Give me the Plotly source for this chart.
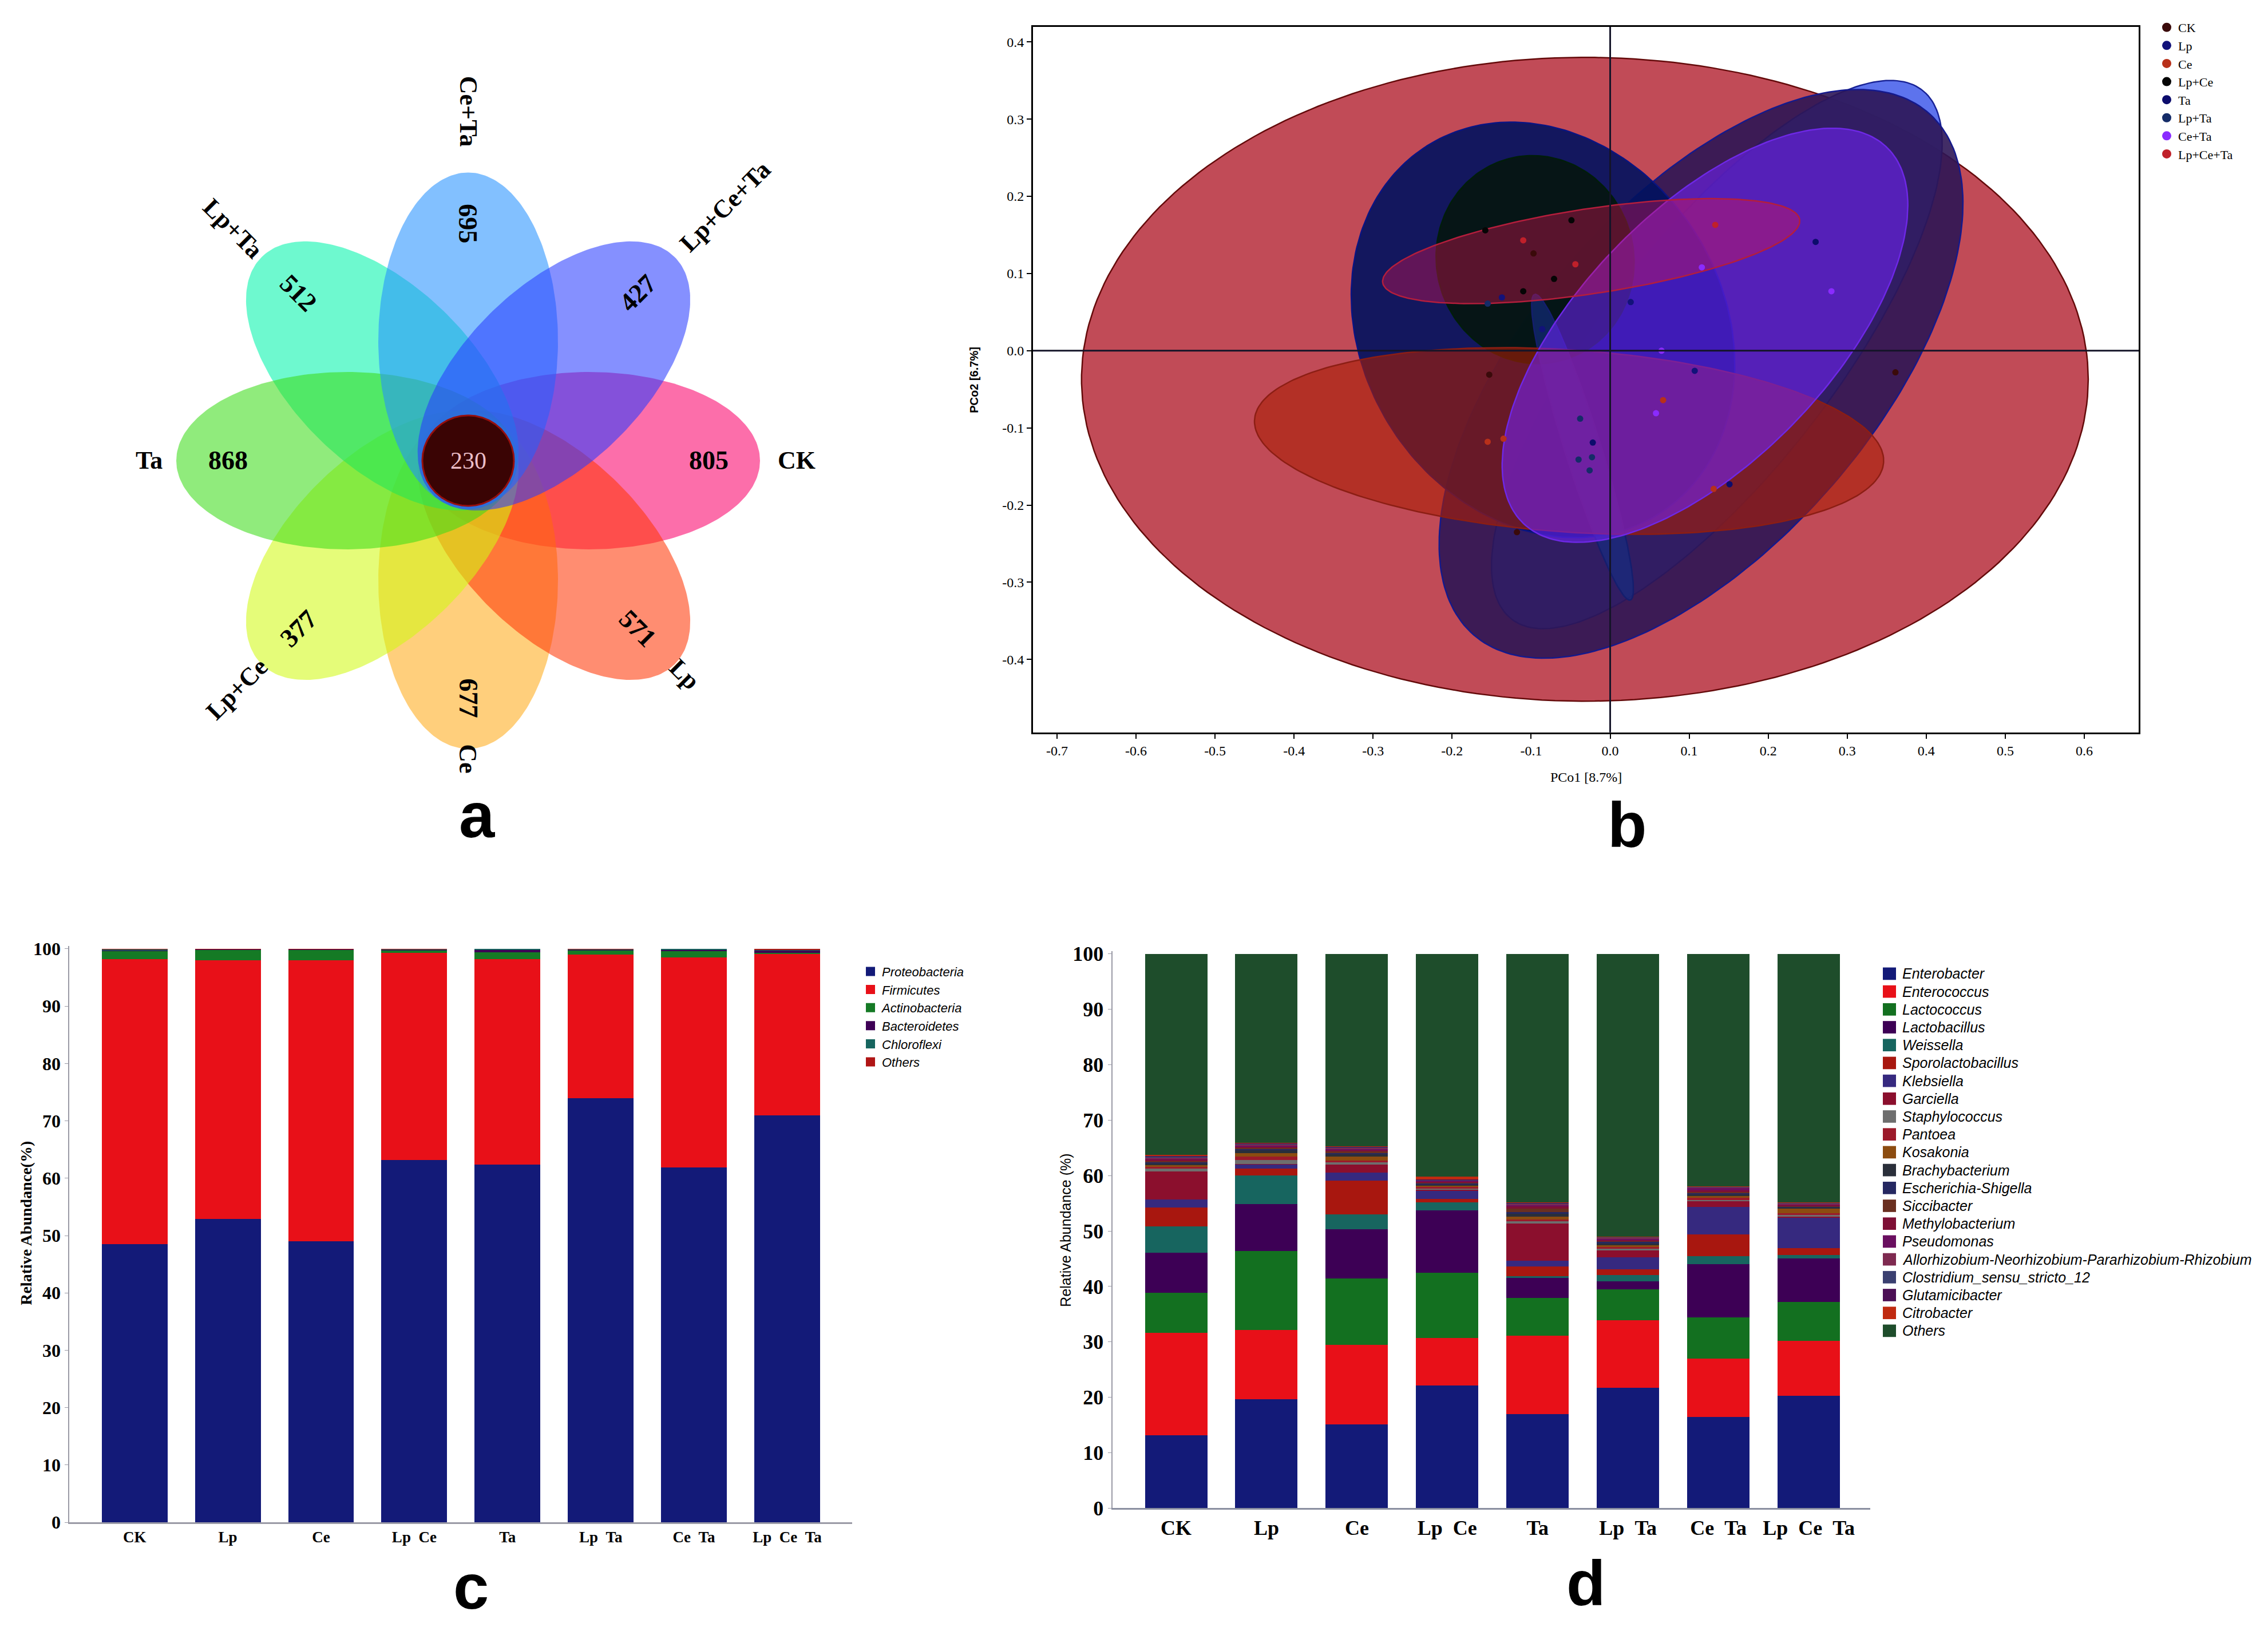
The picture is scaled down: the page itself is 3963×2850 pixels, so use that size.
import numpy as np
import plotly.graph_objects as go

# ====================== DATA ======================
# ---- panel a : flower Venn diagram ----
venn_sets = ["CK", "Lp", "Ce", "Lp+Ce", "Ta", "Lp+Ta", "Ce+Ta", "Lp+Ce+Ta"]
venn_unique = [805, 571, 677, 377, 868, 512, 695, 427]
venn_core = 230
venn_dir_deg = [0, -45, -90, -135, 180, 135, 90, 45]
venn_colors = ["rgb(250,0,105)", "rgb(255,55,5)", "rgb(255,170,25)", "rgb(210,250,20)",
               "rgb(60,220,25)", "rgb(0,245,170)", "rgb(35,145,255)", "rgb(40,60,255)"]
venn_label_r = [574, 535, 527, 572, 558, 581, 618, 636]
venn_draw_order = [0, 2, 1, 3, 5, 4, 6, 7]

# ---- panel b : PCoA ----
pcoa_groups = ["CK", "Lp", "Ce", "Lp+Ce", "Ta", "Lp+Ta", "Ce+Ta", "Lp+Ce+Ta"]
pcoa_colors = ["#3A0A0A", "#12127A", "#B8301A", "#050505", "#0C0C6C", "#152C68", "#8A2BFF", "#C0202A"]
pcoa_x = [[0.361, -0.153, -0.118, -0.097],
          [-0.137, 0.107, 0.026, -0.086],
          [0.067, -0.135, -0.155, 0.131],
          [-0.158, -0.049, -0.071, -0.110],
          [0.260, 0.151, -0.022],
          [-0.155, -0.038, -0.040, -0.023, -0.026],
          [0.116, 0.280, 0.065, 0.058],
          [-0.110, -0.044, 0.133]]
pcoa_y = [[-0.028, -0.031, -0.235, 0.126],
          [0.069, -0.026, 0.063, 0.028],
          [-0.064, -0.114, -0.118, -0.179],
          [0.156, 0.169, 0.093, 0.077],
          [0.141, -0.173, -0.119],
          [0.061, -0.088, -0.141, -0.138, -0.155],
          [0.108, 0.077, 0.000, -0.081],
          [0.143, 0.112, 0.163]]
# confidence ellipses (drawing order bottom -> top)
ell_cx = [-0.032, 0.135, 0.115, -0.085, -0.095, -0.035, -0.052, 0.120, -0.024]
ell_cy = [-0.037, -0.005, -0.030, 0.027, 0.118, -0.125, -0.117, 0.020, 0.129]
ell_a = [0.637, 0.430, 0.444, 0.280, 0.135, 0.207, 0.399, 0.335, 0.267]
ell_b = [0.417, 0.150, 0.220, 0.230, 0.125, 0.023, 0.118, 0.160, 0.055]
ell_ang = [0, 53, 50, 119, 100, 107, -4, 47, 8.8]
ell_fill = ["rgba(178,30,45,0.80)", "rgba(75,100,235,0.90)", "rgba(45,22,85,0.90)",
            "rgba(0,18,95,0.90)", "rgba(5,22,12,0.88)", "rgba(20,45,130,0.65)",
            "rgba(170,30,5,0.60)", "rgba(115,35,255,0.55)", "rgba(215,20,80,0.40)"]
ell_line = ["rgb(100,10,10)", "rgb(25,35,150)", "rgb(20,25,140)", "rgb(10,20,130)",
            "rgb(0,30,10)", "rgb(20,30,110)", "rgb(140,30,20)", "rgb(110,40,230)", "rgb(180,30,60)"]
pc_xticks = [-0.7, -0.6, -0.5, -0.4, -0.3, -0.2, -0.1, 0.0, 0.1, 0.2, 0.3, 0.4, 0.5, 0.6]
pc_xtick_text = ["-0.7", "-0.6", "-0.5", "-0.4", "-0.3", "-0.2", "-0.1", "0.0", "0.1", "0.2",
                 "0.3", "0.4", "0.5", "0.6"]
pc_yticks = [-0.4, -0.3, -0.2, -0.1, 0.0, 0.1, 0.2, 0.3, 0.4]
pc_ytick_text = ["-0.4", "-0.3", "-0.2", "-0.1", "0.0", "0.1", "0.2", "0.3", "0.4"]

# ---- panels c, d : stacked bars ----
treatments = ["CK", "Lp", "Ce", "Lp\u00a0\u00a0Ce", "Ta", "Lp\u00a0\u00a0Ta",
              "Ce\u00a0\u00a0Ta", "Lp\u00a0\u00a0Ce\u00a0\u00a0Ta"]
pct_ticks = [0, 10, 20, 30, 40, 50, 60, 70, 80, 90, 100]
pct_tick_text = ["0", "10", "20", "30", "40", "50", "60", "70", "80", "90", "100"]

phylum_names = ["Proteobacteria", "Firmicutes", "Actinobacteria", "Bacteroidetes", "Chloroflexi", "Others"]
phylum_colors = ["#131A78", "#E81018", "#157A25", "#3D0055", "#17655F", "#B01515"]
phylum_values = [
    [48.5, 52.9, 49.0, 63.2, 62.4, 74.0, 61.9, 71.0],
    [49.7, 45.1, 49.0, 36.1, 35.8, 25.0, 36.6, 28.2],
    [1.4, 1.9, 1.9, 0.5, 1.2, 0.8, 1.2, 0.1],
    [0.2, 0.05, 0.05, 0.1, 0.4, 0.1, 0.1, 0.4],
    [0.15, 0.02, 0.02, 0.05, 0.2, 0.05, 0.2, 0.2],
    [0.05, 0.03, 0.03, 0.05, 0.0, 0.05, 0.0, 0.1],
]

genus_names = ["Enterobacter", "Enterococcus", "Lactococcus", "Lactobacillus", "Weissella",
               "Sporolactobacillus", "Klebsiella", "Garciella", "Staphylococcus", "Pantoea",
               "Kosakonia", "Brachybacterium", "Escherichia-Shigella", "Siccibacter",
               "Methylobacterium", "Pseudomonas",
               "Allorhizobium-Neorhizobium-Pararhizobium-Rhizobium",
               "Clostridium_sensu_stricto_12", "Glutamicibacter", "Citrobacter", "Others"]
genus_colors = ["#131A78", "#E81018", "#137020", "#3D0055", "#17655F", "#A8170F", "#36297F",
                "#8B0F2D", "#6E6E6E", "#9C1A2A", "#8C4C10", "#2A2F3A", "#252861", "#6A2F20",
                "#7E0F35", "#6A0F60", "#7E2A50", "#3A3F70", "#4C0F55", "#C02A10", "#1E4D2B"]
genus_values = [
    [13.2, 19.7, 15.1, 22.1, 17.0, 21.7, 16.5, 20.3],
    [18.4, 12.4, 14.4, 8.6, 14.1, 12.2, 10.5, 9.9],
    [7.3, 14.25, 11.9, 11.8, 6.8, 5.6, 7.4, 7.0],
    [7.2, 8.55, 8.9, 11.25, 3.6, 1.4, 9.6, 7.9],
    [4.75, 5.1, 2.7, 1.45, 0.4, 1.15, 1.5, 0.6],
    [3.35, 1.25, 6.1, 0.6, 1.7, 1.05, 3.9, 1.2],
    [1.5, 0.75, 1.4, 1.4, 1.0, 2.2, 4.9, 5.5],
    [5.0, 0.1, 1.5, 0.3, 6.8, 1.2, 1.05, 0.2],
    [0.6, 0.75, 0.45, 0.2, 0.35, 0.35, 0.25, 0.3],
    [0.35, 0.6, 0.25, 0.3, 0.3, 0.3, 0.45, 0.35],
    [0.2, 0.6, 0.7, 0.2, 0.55, 0.3, 0.3, 0.8],
    [0.3, 0.5, 0.45, 0.2, 0.55, 0.3, 0.35, 0.2],
    [0.3, 0.3, 0.3, 0.2, 0.3, 0.3, 0.2, 0.2],
    [0.2, 0.2, 0.2, 0.15, 0.6, 0.2, 0.2, 0.1],
    [0.3, 0.2, 0.3, 0.2, 0.5, 0.2, 0.2, 0.15],
    [0.15, 0.15, 0.2, 0.15, 0.2, 0.2, 0.5, 0.1],
    [0.2, 0.3, 0.2, 0.1, 0.2, 0.15, 0.1, 0.2],
    [0.2, 0.1, 0.1, 0.1, 0.1, 0.1, 0.1, 0.1],
    [0.1, 0.05, 0.05, 0.05, 0.05, 0.05, 0.05, 0.05],
    [0.1, 0.05, 0.05, 0.5, 0.05, 0.05, 0.05, 0.05],
    [36.3, 34.1, 34.75, 40.15, 44.85, 51.0, 41.9, 44.8],
]

# ====================== LAYOUT HELPERS ======================
OFF = 8                      # default body margin of the html page
FW, FH = 3963 - 2 * OFF, 2850 - 2 * OFF


def px(xf):
    return (xf - OFF) / FW


def py(yf):
    return 1 - (yf - OFF) / FH


def ellipse(cx, cy, a, b, ang_deg, n=240):
    t = np.linspace(0, 2 * np.pi, n)
    th = np.deg2rad(ang_deg)
    u, v = a * np.cos(t), b * np.sin(t)
    return cx + u * np.cos(th) - v * np.sin(th), cy + u * np.sin(th) + v * np.cos(th)


SERIF = "Liberation Serif"
SANS = "Liberation Sans"

fig = go.Figure()
annotations = []
shapes = []

# ====================== PANEL A ======================
CX, CY = 818, 800                 # flower centre (page px)
PET_OFF, PET_A, PET_B = 212, 298, 157
NUM_R = 420
for k in venn_draw_order:
    d, col = venn_dir_deg[k], venn_colors[k]
    th = np.deg2rad(d)
    ex, ey = ellipse(PET_OFF * np.cos(th), PET_OFF * np.sin(th), PET_A, PET_B, d)
    fig.add_trace(go.Scatter(x=ex, y=ey, mode="lines", fill="toself", fillcolor=col,
                             line=dict(width=0), opacity=0.57, hoverinfo="skip",
                             name=venn_sets[k], showlegend=False, xaxis="x", yaxis="y"))
for name, val, d, lr in zip(venn_sets, venn_unique, venn_dir_deg, venn_label_r):
    th = np.deg2rad(d)
    ta = -d
    while ta <= -90:
        ta += 180
    while ta > 90:
        ta -= 180
    annotations.append(dict(x=NUM_R * np.cos(th), y=NUM_R * np.sin(th), xref="x", yref="y",
                            text="<b>%d</b>" % val, showarrow=False, textangle=ta,
                            xanchor="center", yanchor="middle",
                            font=dict(family=SERIF, size=46, color="black")))
    annotations.append(dict(x=lr * np.cos(th), y=lr * np.sin(th), xref="x", yref="y",
                            text="<b>%s</b>" % name, showarrow=False, textangle=ta,
                            xanchor="center", yanchor="middle",
                            font=dict(family=SERIF, size=44, color="black")))
cx_, cy_ = ellipse(0, 0, 80, 80, 0)
fig.add_trace(go.Scatter(x=cx_, y=cy_, mode="lines", fill="toself", fillcolor="rgb(58,4,4)",
                         line=dict(width=3, color="rgb(150,15,15)"), hoverinfo="skip",
                         showlegend=False, xaxis="x", yaxis="y"))
annotations.append(dict(x=0, y=0, xref="x", yref="y", text=str(venn_core), showarrow=False,
                        xanchor="center", yanchor="middle",
                        font=dict(family=SERIF, size=42, color="rgb(235,190,200)")))

# ====================== PANEL B ======================
for cx, cy, a, b, an, fc, lc in zip(ell_cx, ell_cy, ell_a, ell_b, ell_ang, ell_fill, ell_line):
    ex, ey = ellipse(cx, cy, a, b, an)
    fig.add_trace(go.Scatter(x=ex, y=ey, mode="lines", fill="toself", fillcolor=fc,
                             line=dict(width=2.5, color=lc), hoverinfo="skip",
                             showlegend=False, xaxis="x2", yaxis="y2"))
for g, col, xs, ys in zip(pcoa_groups, pcoa_colors, pcoa_x, pcoa_y):
    fig.add_trace(go.Scatter(x=xs, y=ys, mode="markers", marker=dict(size=11, color=col),
                             name=g, legendgroup=g, showlegend=False, xaxis="x2", yaxis="y2"))
    fig.add_trace(go.Scatter(x=[None], y=[None], mode="markers", marker=dict(size=17, color=col),
                             name=g, legendgroup=g, showlegend=True, legend="legend",
                             xaxis="x2", yaxis="y2"))

# ====================== PANEL C ======================
for name, col, vals in zip(phylum_names, phylum_colors, phylum_values):
    fig.add_trace(go.Bar(x=treatments, y=vals, marker=dict(color=col, line=dict(width=0)),
                         width=0.705, name=name, showlegend=False, xaxis="x3", yaxis="y3"))
    fig.add_trace(go.Scatter(x=[None], y=[None], mode="markers",
                             marker=dict(symbol="square", size=21, color=col),
                             name="<i>%s</i>" % name, legend="legend2", xaxis="x3", yaxis="y3"))

# ====================== PANEL D ======================
for name, col, vals in zip(genus_names, genus_colors, genus_values):
    fig.add_trace(go.Bar(x=treatments, y=vals, marker=dict(color=col, line=dict(width=0)),
                         width=0.69, name=name, showlegend=False, xaxis="x4", yaxis="y4"))
# legend of panel d drawn as swatches + labels (tight row spacing of the original)
LEG_D_Y0, LEG_D_DY = 1708, 31.6
for i, (name, col) in enumerate(zip(genus_names, genus_colors)):
    yc = LEG_D_Y0 + LEG_D_DY * i
    shapes.append(dict(type="rect", xref="paper", yref="paper", x0=px(3290), x1=px(3313),
                       y0=py(yc + 11), y1=py(yc - 11), fillcolor=col, line=dict(width=0)))
    annotations.append(dict(x=px(3322), y=py(yc), xref="paper", yref="paper",
                            text="<i>%s</i>" % name, showarrow=False, xanchor="left",
                            yanchor="middle", font=dict(family=SANS, size=25, color="black")))

# ====================== ANNOTATIONS ======================
for lab, x, y in [("a", 833, 1428), ("b", 2843, 1445), ("c", 823, 2793), ("d", 2771, 2787)]:
    annotations.append(dict(x=px(x), y=py(y), xref="paper", yref="paper", text="<b>%s</b>" % lab,
                            showarrow=False, xanchor="center", yanchor="middle",
                            font=dict(family=SANS, size=112, color="black")))
annotations += [
    dict(x=px(2771), y=py(1360), xref="paper", yref="paper", text="PCo1 [8.7%]", showarrow=False,
         xanchor="center", yanchor="middle", font=dict(family=SERIF, size=24, color="black")),
    dict(x=px(1702), y=py(657), xref="paper", yref="paper", text="<b>PCo2 [6.7%]</b>",
         showarrow=False, textangle=-90, xanchor="center", yanchor="middle",
         font=dict(family=SANS, size=20, color="black")),
    dict(x=px(46), y=py(2150), xref="paper", yref="paper", text="<b>Relative Abundance(%)</b>",
         showarrow=False, textangle=-90, xanchor="center", yanchor="middle",
         font=dict(family=SERIF, size=28, color="black")),
    dict(x=px(1862), y=py(2162), xref="paper", yref="paper", text="Relative Abundance (%)",
         showarrow=False, textangle=-90, xanchor="center", yanchor="middle",
         font=dict(family=SANS, size=25, color="black")),
]

shapes += [
    dict(type="line", xref="x2", yref="y2 domain", x0=0, x1=0, y0=0, y1=1, layer="above",
         line=dict(color="rgb(20,20,40)", width=3)),
    dict(type="line", xref="x2 domain", yref="y2", x0=0, x1=1, y0=0, y1=0, layer="above",
         line=dict(color="rgb(20,20,40)", width=3)),
]

bar_y_common = dict(range=[0, 100.5], tickvals=pct_ticks, ticktext=pct_tick_text, showgrid=False,
                    zeroline=False, showline=True, linecolor="#9a9aa6", linewidth=2,
                    ticks="outside", ticklen=6, tickcolor="#9a9aa6")

fig.update_layout(
    width=FW, height=FH, margin=dict(l=0, r=0, t=0, b=0, pad=0),
    paper_bgcolor="white", plot_bgcolor="white", barmode="stack", bargap=0.3,
    xaxis=dict(domain=[px(10), px(1650)], range=[10 - CX, 1650 - CX], visible=False),
    yaxis=dict(domain=[py(1500), py(10)], range=[CY - 1500, CY - 10], visible=False),
    xaxis2=dict(domain=[px(1805), px(3737)], range=[-0.7304, 0.6688], anchor="y2",
                showline=True, mirror=True, linecolor="black", linewidth=3, ticks="outside",
                ticklen=8, tickwidth=2, tickcolor="black", tickvals=pc_xticks,
                ticktext=pc_xtick_text, showgrid=False, zeroline=False,
                tickfont=dict(family=SERIF, size=24, color="black")),
    yaxis2=dict(domain=[py(1281), py(32)], range=[-0.4945, 0.4197], anchor="x2",
                showline=True, mirror=True, linecolor="black", linewidth=3, ticks="outside",
                ticklen=8, tickwidth=2, tickcolor="black", tickvals=pc_yticks,
                ticktext=pc_ytick_text, showgrid=False, zeroline=False,
                tickfont=dict(family=SERIF, size=24, color="black")),
    xaxis3=dict(domain=[px(120.5), px(1489)], range=[-0.704, 7.697], anchor="y3",
                type="category", categoryorder="array", categoryarray=treatments,
                showline=True, linecolor="#9a9aa6", linewidth=3, ticks="", showgrid=False,
                tickfont=dict(family=SERIF, size=27, color="black", weight="bold")),
    yaxis3=dict(domain=[py(2679), py(2679 - 100.5 * 10.15)], anchor="x3",
                tickfont=dict(family=SERIF, size=32, color="black", weight="bold"), **bar_y_common),
    xaxis4=dict(domain=[px(1943.5), px(3268)], range=[-0.706, 7.68], anchor="y4",
                type="category", categoryorder="array", categoryarray=treatments,
                showline=True, linecolor="#8a8fa0", linewidth=3, ticks="", showgrid=False,
                tickfont=dict(family=SERIF, size=36, color="black", weight="bold")),
    yaxis4=dict(domain=[py(2654), py(2654 - 100.5 * 9.81)], anchor="x4",
                tickfont=dict(family=SERIF, size=36, color="black", weight="bold"), **bar_y_common),
    legend=dict(x=px(3766), y=py(12), xanchor="left", yanchor="top", bgcolor="rgba(0,0,0,0)",
                font=dict(family=SERIF, size=22, color="black"), tracegroupgap=0,
                itemclick=False),
    legend2=dict(x=px(1501), y=py(1683), xanchor="left", yanchor="top", bgcolor="rgba(0,0,0,0)",
                 font=dict(family=SANS, size=22, color="black"), tracegroupgap=0),
    annotations=annotations,
    shapes=shapes,
)

fig.write_html("out.html")
